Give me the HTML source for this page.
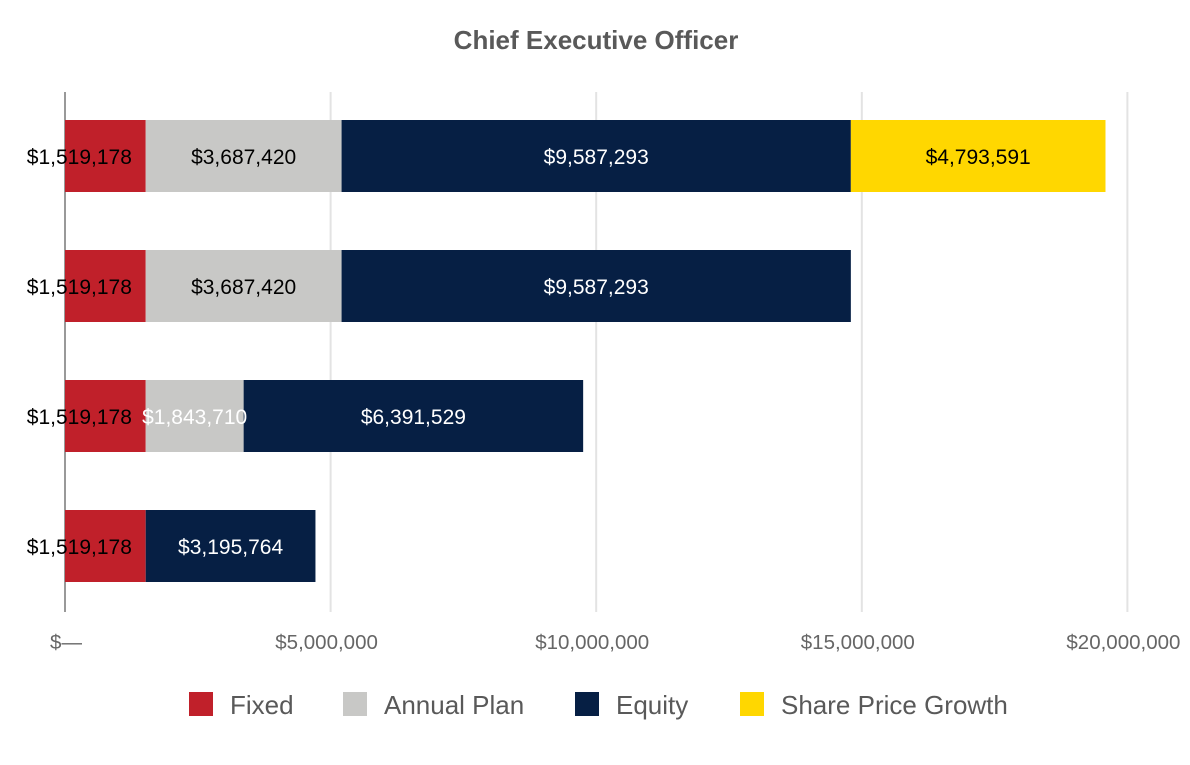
<!DOCTYPE html>
<html><head><meta charset="utf-8"><style>
body{margin:0;background:#fff;font-family:"Liberation Sans",Arial,sans-serif}
</style></head><body>
<svg id="chart" width="1190" height="760" xmlns="http://www.w3.org/2000/svg" font-family="Liberation Sans, Arial, sans-serif">
<text x="596" y="49" text-anchor="middle" font-size="26" font-weight="bold" fill="#595959">Chief Executive Officer</text>
<g id="grid"></g><g id="bars"></g><g id="labels"></g><g id="ticks"></g><g id="legend"></g>
</svg>
<script>
const categories=["Scenario 1","Scenario 2","Scenario 3","Scenario 4"];
const fixedVals=[1519178,1519178,1519178,1519178];
const annualVals=[3687420,3687420,1843710,0];
const equityVals=[9587293,9587293,6391529,3195764];
const growthVals=[4793591,0,0,0];
const tickVals=[0,5000000,10000000,15000000,20000000];
const tickLabels=["$—","$5,000,000","$10,000,000","$15,000,000","$20,000,000"];
const seriesNames=["Fixed","Annual Plan","Equity","Share Price Growth"];
const colors=["#c0202a","#c8c8c6","#061f44","#ffd700"];
const textColors=["#000","#000","#fff","#000"];
const NS="http://www.w3.org/2000/svg";
const x=v=>65+v/5000000*265.6;
const y=i=>120+i*130;
function mk(t,a,p){const e=document.createElementNS(NS,t);for(const k in a)e.setAttribute(k,a[k]);p.appendChild(e);return e;}
const grid=document.getElementById('grid'),bars=document.getElementById('bars'),labels=document.getElementById('labels'),ticks=document.getElementById('ticks'),legend=document.getElementById('legend');
tickVals.forEach((v,i)=>{
 if(i>0){const l=mk('line',{x1:x(v),x2:x(v),y1:92,y2:612,stroke:'#e3e3e3','stroke-width':2},grid);
 
 }
 const t=mk('text',{x:i>0?x(v)-4:x(v)+1,y:649,'text-anchor':'middle','font-size':20.5,fill:'#666'},ticks);
 t.textContent=tickLabels[i];
 
 
});
const ax=mk('line',{x1:65,x2:65,y1:92,y2:612,stroke:'#999','stroke-width':2},grid);


const series=[fixedVals,annualVals,equityVals,growthVals];
categories.forEach((c,i)=>{
 let acc=0;
 series.forEach((s,j)=>{
  const v=s[i]; if(!v)return;
  const r=mk('rect',{x:x(acc),y:y(i),width:x(acc+v)-x(acc),height:72,fill:colors[j]},bars);
  
  
  let tc=textColors[j]; if(j===1&&v<3000000)tc='#fff';
  let cx=(x(acc)+x(acc+v))/2; if(j===0)cx-=26;
  const t=mk('text',{x:cx,y:y(i)+44,'text-anchor':'middle','font-size':21,fill:tc},labels);
  t.textContent='$'+v.toLocaleString('en-US');
  
  
  acc+=v;
 });
});
const lx=[189,343,575,740];
seriesNames.forEach((n,j)=>{
 const g=mk('g',{},legend);
 
 
 mk('rect',{x:lx[j],y:692,width:24,height:24,fill:colors[j]},g);
 const t=mk('text',{x:lx[j]+41,y:714,'font-size':26,fill:'#595959'},g);
 t.textContent=n;
});
</script>
</body></html>
